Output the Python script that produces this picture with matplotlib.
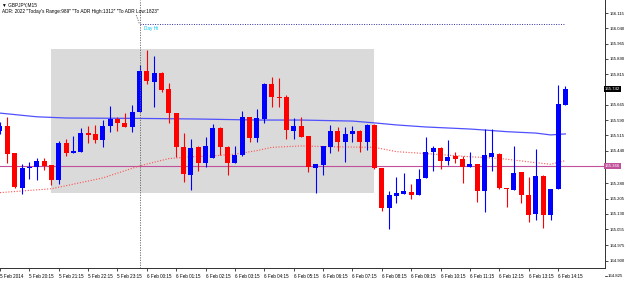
import matplotlib
matplotlib.use("Agg")
from matplotlib import pyplot as plt
from matplotlib.patches import Rectangle

# GBPJPY M15 candles
opens = [165.536, 165.561, 165.428, 165.257, 165.355, 165.360, 165.389, 165.369, 165.296, 165.477,
         165.428, 165.433, 165.526, 165.522, 165.492, 165.561, 165.595, 165.576, 165.556, 165.630,
         165.831, 165.777, 165.821, 165.742, 165.625, 165.458, 165.320, 165.458, 165.379, 165.404,
         165.551, 165.458, 165.379, 165.418, 165.605, 165.502, 165.595, 165.767, 165.703, 165.703,
         165.536, 165.561, 165.512, 165.355, 165.369, 165.458, 165.536, 165.482, 165.522, 165.536,
         165.482, 165.566, 165.355, 165.159, 165.217, 165.227, 165.237, 165.222, 165.306, 165.433,
         165.453, 165.389, 165.414, 165.399, 165.360, 165.374, 165.242, 165.409, 165.423, 165.257,
         165.247, 165.335, 165.222, 165.129, 165.316, 165.124, 165.252, 165.664]
highs = [165.580, 165.605, 165.430, 165.374, 165.384, 165.404, 165.404, 165.371, 165.487, 165.497,
         165.512, 165.551, 165.561, 165.566, 165.590, 165.659, 165.605, 165.625, 165.664, 165.860,
         165.934, 165.904, 165.826, 165.772, 165.627, 165.526, 165.497, 165.463, 165.507, 165.571,
         165.556, 165.463, 165.463, 165.634, 165.607, 165.644, 165.772, 165.801, 165.796, 165.713,
         165.600, 165.605, 165.514, 165.376, 165.465, 165.566, 165.556, 165.556, 165.561, 165.541,
         165.571, 165.571, 165.357, 165.242, 165.311, 165.330, 165.276, 165.350, 165.507, 165.463,
         165.458, 165.492, 165.433, 165.414, 165.433, 165.376, 165.546, 165.546, 165.426, 165.259,
         165.463, 165.337, 165.311, 165.448, 165.318, 165.254, 165.762, 165.757]
lows = [165.522, 165.379, 165.257, 165.227, 165.301, 165.296, 165.345, 165.271, 165.276, 165.414,
        165.426, 165.431, 165.477, 165.477, 165.458, 165.531, 165.536, 165.554, 165.531, 165.628,
        165.767, 165.654, 165.728, 165.576, 165.409, 165.286, 165.247, 165.340, 165.360, 165.402,
        165.418, 165.320, 165.377, 165.416, 165.482, 165.482, 165.576, 165.654, 165.654, 165.497,
        165.497, 165.505, 165.335, 165.232, 165.320, 165.428, 165.438, 165.384, 165.482, 165.433,
        165.443, 165.350, 165.144, 165.055, 165.183, 165.225, 165.203, 165.220, 165.304, 165.340,
        165.350, 165.369, 165.379, 165.281, 165.358, 165.188, 165.139, 165.340, 165.252, 165.163,
        165.245, 165.183, 165.090, 165.100, 165.060, 165.100, 165.250, 165.662]
closes = [165.561, 165.423, 165.262, 165.355, 165.360, 165.389, 165.365, 165.296, 165.477, 165.428,
          165.438, 165.526, 165.517, 165.492, 165.561, 165.595, 165.576, 165.556, 165.630, 165.831,
          165.782, 165.821, 165.737, 165.625, 165.458, 165.325, 165.453, 165.379, 165.463, 165.551,
          165.458, 165.379, 165.418, 165.605, 165.502, 165.600, 165.767, 165.703, 165.698, 165.541,
          165.561, 165.507, 165.360, 165.374, 165.463, 165.536, 165.482, 165.522, 165.536, 165.482,
          165.566, 165.355, 165.159, 165.222, 165.232, 165.242, 165.222, 165.301, 165.433, 165.453,
          165.389, 165.409, 165.399, 165.360, 165.374, 165.242, 165.418, 165.428, 165.257, 165.252,
          165.330, 165.222, 165.124, 165.316, 165.124, 165.252, 165.669, 165.742]

# moving averages (bar index, price)
blue_ma_bars = [0, 5, 9, 19, 27, 35, 41, 48, 51, 54, 58, 61, 64, 66, 69, 73, 75, 77]
blue_ma = [165.624, 165.606, 165.600, 165.598, 165.595, 165.590, 165.590, 165.585, 165.576,
           165.566, 165.556, 165.551, 165.546, 165.541, 165.533, 165.526, 165.517, 165.522]
red_ma_bars = [0, 7, 14, 19, 23, 26, 29, 32, 35, 37, 41, 45, 51, 54, 59, 64, 68, 73, 75, 77]
red_ma = [165.234, 165.253, 165.306, 165.365, 165.401, 165.410, 165.414, 165.423, 165.440, 165.456,
          165.463, 165.459, 165.456, 165.435, 165.423, 165.410, 165.402, 165.381, 165.373, 165.391]

# asia box, levels
box_start, box_end = 7, 51
box_high, box_low = 165.937, 165.234
day_start_bar = 19
day_hi = 166.061
pink_level = 165.366
last_price = 165.742

time_bars = list(range(0, 78, 4))
time_labels = ["5 Feb 2014", "5 Feb 20:15", "5 Feb 21:15", "5 Feb 22:15", "5 Feb 23:15",
               "6 Feb 00:15", "6 Feb 01:15", "6 Feb 02:15", "6 Feb 03:15", "6 Feb 04:15",
               "6 Feb 05:15", "6 Feb 06:15", "6 Feb 07:15", "6 Feb 08:15", "6 Feb 09:15",
               "6 Feb 10:15", "6 Feb 11:15", "6 Feb 12:15", "6 Feb 13:15", "6 Feb 14:15"]
# 165.740 and 165.365 sit under the price boxes, so they are left out
price_ticks = [166.115, 166.040, 165.965, 165.890, 165.815, 165.665, 165.590, 165.515,
               165.440, 165.280, 165.205, 165.130, 165.055, 164.975, 164.900]

plt.rcParams['font.family'] = ['Liberation Sans', 'DejaVu Sans']

fig = plt.figure(figsize=(6.25, 2.88), dpi=100)
ax = fig.add_axes([0, 20 / 288, 605 / 625, 268 / 288])

ax.add_patch(Rectangle((box_start, box_low), box_end - box_start, box_high - box_low,
                       facecolor='#dadada', edgecolor='none', zorder=0))

ax.axhline(pink_level, color='#c0509a', lw=0.8, zorder=1)
ax.plot(blue_ma_bars, blue_ma, color='#5050ff', lw=0.9, zorder=2)
ax.plot(red_ma_bars, red_ma, color='#ff5050', lw=0.8, ls=(0, (1, 1.5)), zorder=2)

for i in range(len(opens)):
    col = '#0000ff' if closes[i] >= opens[i] else '#ff0000'
    ax.vlines(i, lows[i], highs[i], color=col, lw=0.8, zorder=3)
    lo = min(opens[i], closes[i])
    h = max(abs(closes[i] - opens[i]), 0.004)
    ax.bar(i, h, bottom=lo, width=0.68, color=col, edgecolor='none', zorder=4)

ax.axvline(day_start_bar, color='#606060', lw=0.6, ls=(0, (1.5, 1.5)), zorder=5)
ax.plot([day_start_bar - 0.45, day_start_bar], [166.105, day_hi], color='#606060', lw=0.6,
        ls=(0, (1.5, 1.5)), zorder=5)
ax.hlines(day_hi, day_start_bar + 0.1, 77, color='#3030a0', lw=0.7, ls=(0, (1, 1.5)), zorder=5)
ax.text(day_start_bar + 0.6, 166.040, "Day Hi", color='#00c8f0', fontsize=3.4, va='center')

ax.set_xlim(0.088, 82.4)
ax.set_ylim(164.8643, 166.1788)

ax.set_xticks(time_bars)
ax.set_xticklabels(time_labels, ha='left')
ax.tick_params(axis='x', length=2, width=0.5, pad=2.5, labelsize=3.3)
ax.yaxis.tick_right()
ax.set_yticks(price_ticks)
ax.set_yticklabels(["%.3f" % p for p in price_ticks])
ax.tick_params(axis='y', length=2, width=0.5, pad=1, labelsize=3.1)

ytr = ax.get_yaxis_transform()
ax.plot([1.0, 1.0033], [164.825, 164.825], color='black', lw=0.5, transform=ytr, clip_on=False)
ax.text(1.005, 164.825, "164.825", fontsize=3.1, va='center', transform=ytr, clip_on=False)

ax.text(1.0, last_price, "165.742", color='white', fontsize=3.1, va='center', transform=ytr,
        bbox=dict(facecolor='black', edgecolor='none', pad=0.7), zorder=10)
ax.text(1.0, pink_level, "165.366", color='white', fontsize=3.1, va='center', transform=ytr,
        bbox=dict(facecolor='#c0509a', edgecolor='none', pad=0.7), zorder=10)

for s in ['top', 'left']:
    ax.spines[s].set_visible(False)
ax.spines['right'].set_color('#303030')
ax.spines['bottom'].set_color('#303030')
ax.spines['right'].set_linewidth(0.7)
ax.spines['bottom'].set_linewidth(0.7)

fig.text(2 / 625, 1 - 5 / 288, "\u25bc GBPJPY,M15", fontsize=3.4, va='center')
fig.text(2 / 625, 1 - 12 / 288,
         'ADR: 2022 "Today\'s Range:989" "To ADR High:1312" "To ADR Low:1823"',
         fontsize=3.4, va='center')

fig.savefig('out.png', dpi=100)
